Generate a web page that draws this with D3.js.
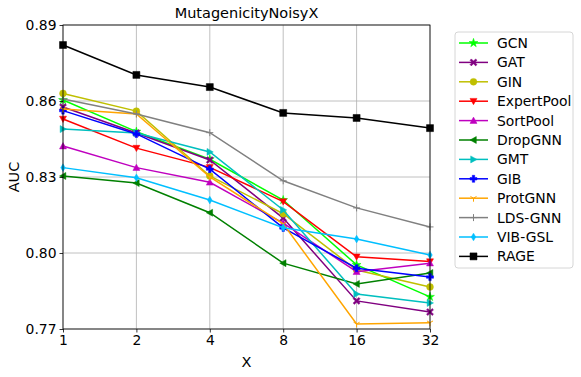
<!DOCTYPE html>
<html>
<head>
<meta charset="utf-8">
<script src="https://cdn.jsdelivr.net/npm/d3@7"></script>
<style>
  body { margin: 0; background: #fff; }
  text { font-family: "DejaVu Sans", sans-serif; fill: #000; }
</style>
</head>
<body>
<script>
var outerWidth = 581, outerHeight = 377;
var margin = { top: 25, right: 151, bottom: 48, left: 63 };   // plot box 63..430, 25..329
var width = outerWidth - margin.left - margin.right,
  height = outerHeight - margin.top - margin.bottom;

// data
var xLabels = ["1", "2", "4", "8", "16", "32"];
var yTicks = [0.77, 0.80, 0.83, 0.86, 0.89];

var gcn      = [0.8604, 0.8479, 0.8370, 0.8209, 0.7953, 0.7827];
var gat      = [0.8576, 0.8474, 0.8367, 0.8138, 0.7811, 0.7767];
var gin      = [0.8630, 0.8560, 0.8304, 0.8155, 0.7933, 0.7866];
var expert   = [0.8529, 0.8414, 0.8338, 0.8203, 0.7985, 0.7966];
var sortpool = [0.8422, 0.8337, 0.8279, 0.8118, 0.7926, 0.7960];
var dropgnn  = [0.8304, 0.8276, 0.8159, 0.7960, 0.7878, 0.7921];
var gmt      = [0.8489, 0.8474, 0.8399, 0.8170, 0.7838, 0.7803];
var gib      = [0.8562, 0.8470, 0.8331, 0.8099, 0.7940, 0.7905];
var protgnn  = [0.8568, 0.8549, 0.8300, 0.8115, 0.7720, 0.7725];
var ldsgnn   = [0.8608, 0.8549, 0.8475, 0.8285, 0.8178, 0.8103];
var vibgsl   = [0.8337, 0.8297, 0.8209, 0.8100, 0.8055, 0.7992];
var rage     = [0.8821, 0.8703, 0.8655, 0.8553, 0.8533, 0.8493];

var series = [
  { name: "GCN", values: gcn, color: "#00ff00", marker: "star" },
  { name: "GAT", values: gat, color: "#800080", marker: "x" },
  { name: "GIN", values: gin, color: "#bfbf00", marker: "circle" },
  { name: "ExpertPool", values: expert, color: "#ff0000", marker: "tdown" },
  { name: "SortPool", values: sortpool, color: "#bf00bf", marker: "tup" },
  { name: "DropGNN", values: dropgnn, color: "#008000", marker: "tleft" },
  { name: "GMT", values: gmt, color: "#00bfbf", marker: "tright" },
  { name: "GIB", values: gib, color: "#0000ff", marker: "plus" },
  { name: "ProtGNN", values: protgnn, color: "#ffa500", marker: "tri" },
  { name: "LDS-GNN", values: ldsgnn, color: "#808080", marker: "thinplus" },
  { name: "VIB-GSL", values: vibgsl, color: "#00bfff", marker: "diamond" },
  { name: "RAGE", values: rage, color: "#000000", marker: "square" }
];

var x = d3.scalePoint().domain(xLabels).range([0, width]);
var y = d3.scaleLinear().domain([0.77, 0.89]).range([height, 0]);

var svg = d3.select("body").append("svg")
  .attr("width", outerWidth)
  .attr("height", outerHeight);

var g = svg.append("g")
  .attr("transform", "translate(" + margin.left + "," + margin.top + ")");

// grid
g.append("g").selectAll("line").data(xLabels).enter().append("line")
  .attr("x1", d => x(d)).attr("x2", d => x(d))
  .attr("y1", 0).attr("y2", height)
  .style("stroke", "#b0b0b0").style("stroke-width", 0.8);
g.append("g").selectAll("line").data(yTicks).enter().append("line")
  .attr("x1", 0).attr("x2", width)
  .attr("y1", d => y(d)).attr("y2", d => y(d))
  .style("stroke", "#b0b0b0").style("stroke-width", 0.8);

// marker shapes
function markerPath(type, s) {
  var r = s / 2;
  switch (type) {
    case "square": return "M" + (-r) + "," + (-r) + "h" + s + "v" + s + "h" + (-s) + "Z";
    case "tdown": return "M" + (-r) + "," + (-r * 0.8) + "L" + r + "," + (-r * 0.8) + "L0," + r + "Z";
    case "tup": return "M" + (-r) + "," + (r * 0.8) + "L" + r + "," + (r * 0.8) + "L0," + (-r) + "Z";
    case "tleft": return "M" + (r * 0.8) + "," + (-r) + "L" + (r * 0.8) + "," + r + "L" + (-r) + ",0Z";
    case "tright": return "M" + (-r * 0.8) + "," + (-r) + "L" + (-r * 0.8) + "," + r + "L" + r + ",0Z";
    case "diamond": return "M0," + (-r * 1.1) + "L" + (r * 0.65) + ",0L0," + (r * 1.1) + "L" + (-r * 0.65) + ",0Z";
    case "plus": {
      var a = r * 0.35;
      return "M" + (-a) + "," + (-r) + "H" + a + "V" + (-a) + "H" + r + "V" + a + "H" + a + "V" + r +
        "H" + (-a) + "V" + a + "H" + (-r) + "V" + (-a) + "H" + (-a) + "Z";
    }
    case "x": {
      var p = d3.path(), k = r * 0.38, o = r;
      p.moveTo(0, -k); p.lineTo(o - k, -o); p.lineTo(o, -o + k); p.lineTo(k, 0);
      p.lineTo(o, o - k); p.lineTo(o - k, o); p.lineTo(0, k); p.lineTo(-o + k, o);
      p.lineTo(-o, o - k); p.lineTo(-k, 0); p.lineTo(-o, -o + k); p.lineTo(-o + k, -o); p.closePath();
      return p.toString();
    }
    case "star": return d3.symbol(d3.symbolStar, s * s * 0.5)();
    case "circle": return d3.symbol(d3.symbolCircle, s * s * 0.75)();
    default: return null;
  }
}

function drawMarker(sel, d, color) {
  var s = 7;
  if (d.marker === "tri") {
    var r = 3.5;
    var p = "M0,0L0," + r + "M0,0L" + (-r * 0.87) + "," + (-r * 0.5) + "M0,0L" + (r * 0.87) + "," + (-r * 0.5);
    sel.append("path").attr("d", p).style("stroke", color).style("stroke-width", 1).style("fill", "none");
  } else if (d.marker === "thinplus") {
    var q = 3.5;
    sel.append("path").attr("d", "M" + (-q) + ",0H" + q + "M0," + (-q) + "V" + q)
      .style("stroke", color).style("stroke-width", 1).style("fill", "none");
  } else {
    sel.append("path").attr("d", markerPath(d.marker, s)).style("fill", color).style("stroke", color).style("stroke-width", 0.5);
  }
}

var line = d3.line()
  .x((v, i) => x(xLabels[i]))
  .y(v => y(v));

series.forEach(function (s) {
  var sg = g.append("g");
  sg.append("path")
    .datum(s.values)
    .attr("d", line)
    .style("fill", "none")
    .style("stroke", s.color)
    .style("stroke-width", 1.5);
  s.values.forEach(function (v, i) {
    var m = sg.append("g").attr("transform", "translate(" + x(xLabels[i]) + "," + y(v) + ")");
    drawMarker(m, s, s.color);
  });
});

// axes
var xAxis = d3.axisBottom(x).tickSizeOuter(0).tickSize(3.5).tickPadding(3);
var yAxis = d3.axisLeft(y).tickValues(yTicks).tickFormat(d3.format(".2f")).tickSizeOuter(0).tickSize(3.5).tickPadding(3);

var gx = g.append("g").attr("transform", "translate(0," + height + ")").call(xAxis);
var gy = g.append("g").call(yAxis);
[gx, gy].forEach(function (a) {
  a.select(".domain").remove();
  a.selectAll("text").style("font-size", "13.9px").style("font-family", "DejaVu Sans");
  a.selectAll("line").style("stroke", "#000").style("stroke-width", 0.8);
});

// frame
g.append("rect").attr("x", 0).attr("y", 0).attr("width", width).attr("height", height)
  .style("fill", "none").style("stroke", "#000").style("stroke-width", 0.8);

// labels
g.append("text").attr("x", width / 2).attr("y", -7).attr("text-anchor", "middle")
  .style("font-size", "14.5px").text("MutagenicityNoisyX");
g.append("text").attr("x", width / 2).attr("y", height + 38).attr("text-anchor", "middle")
  .style("font-size", "14.5px").text("X");
g.append("text").attr("transform", "translate(" + (-44) + "," + (height / 2) + ") rotate(-90)")
  .attr("text-anchor", "middle").style("font-size", "14.5px").text("AUC");

// legend
var lg = svg.append("g").attr("transform", "translate(455,32)");
lg.append("rect").attr("width", 118).attr("height", 236).attr("rx", 3)
  .style("fill", "#fff").style("stroke", "#cccccc").style("stroke-width", 0.8);
series.forEach(function (s, i) {
  var row = lg.append("g").attr("transform", "translate(0," + (11 + i * 19.4) + ")");
  row.append("line").attr("x1", 4).attr("x2", 33).attr("y1", 0).attr("y2", 0)
    .style("stroke", s.color).style("stroke-width", 1.5);
  drawMarker(row.append("g").attr("transform", "translate(18.5,0)"), s, s.color);
  row.append("text").attr("x", 42).attr("y", 5).style("font-size", "13.9px").text(s.name);
});
</script>
</body>
</html>
